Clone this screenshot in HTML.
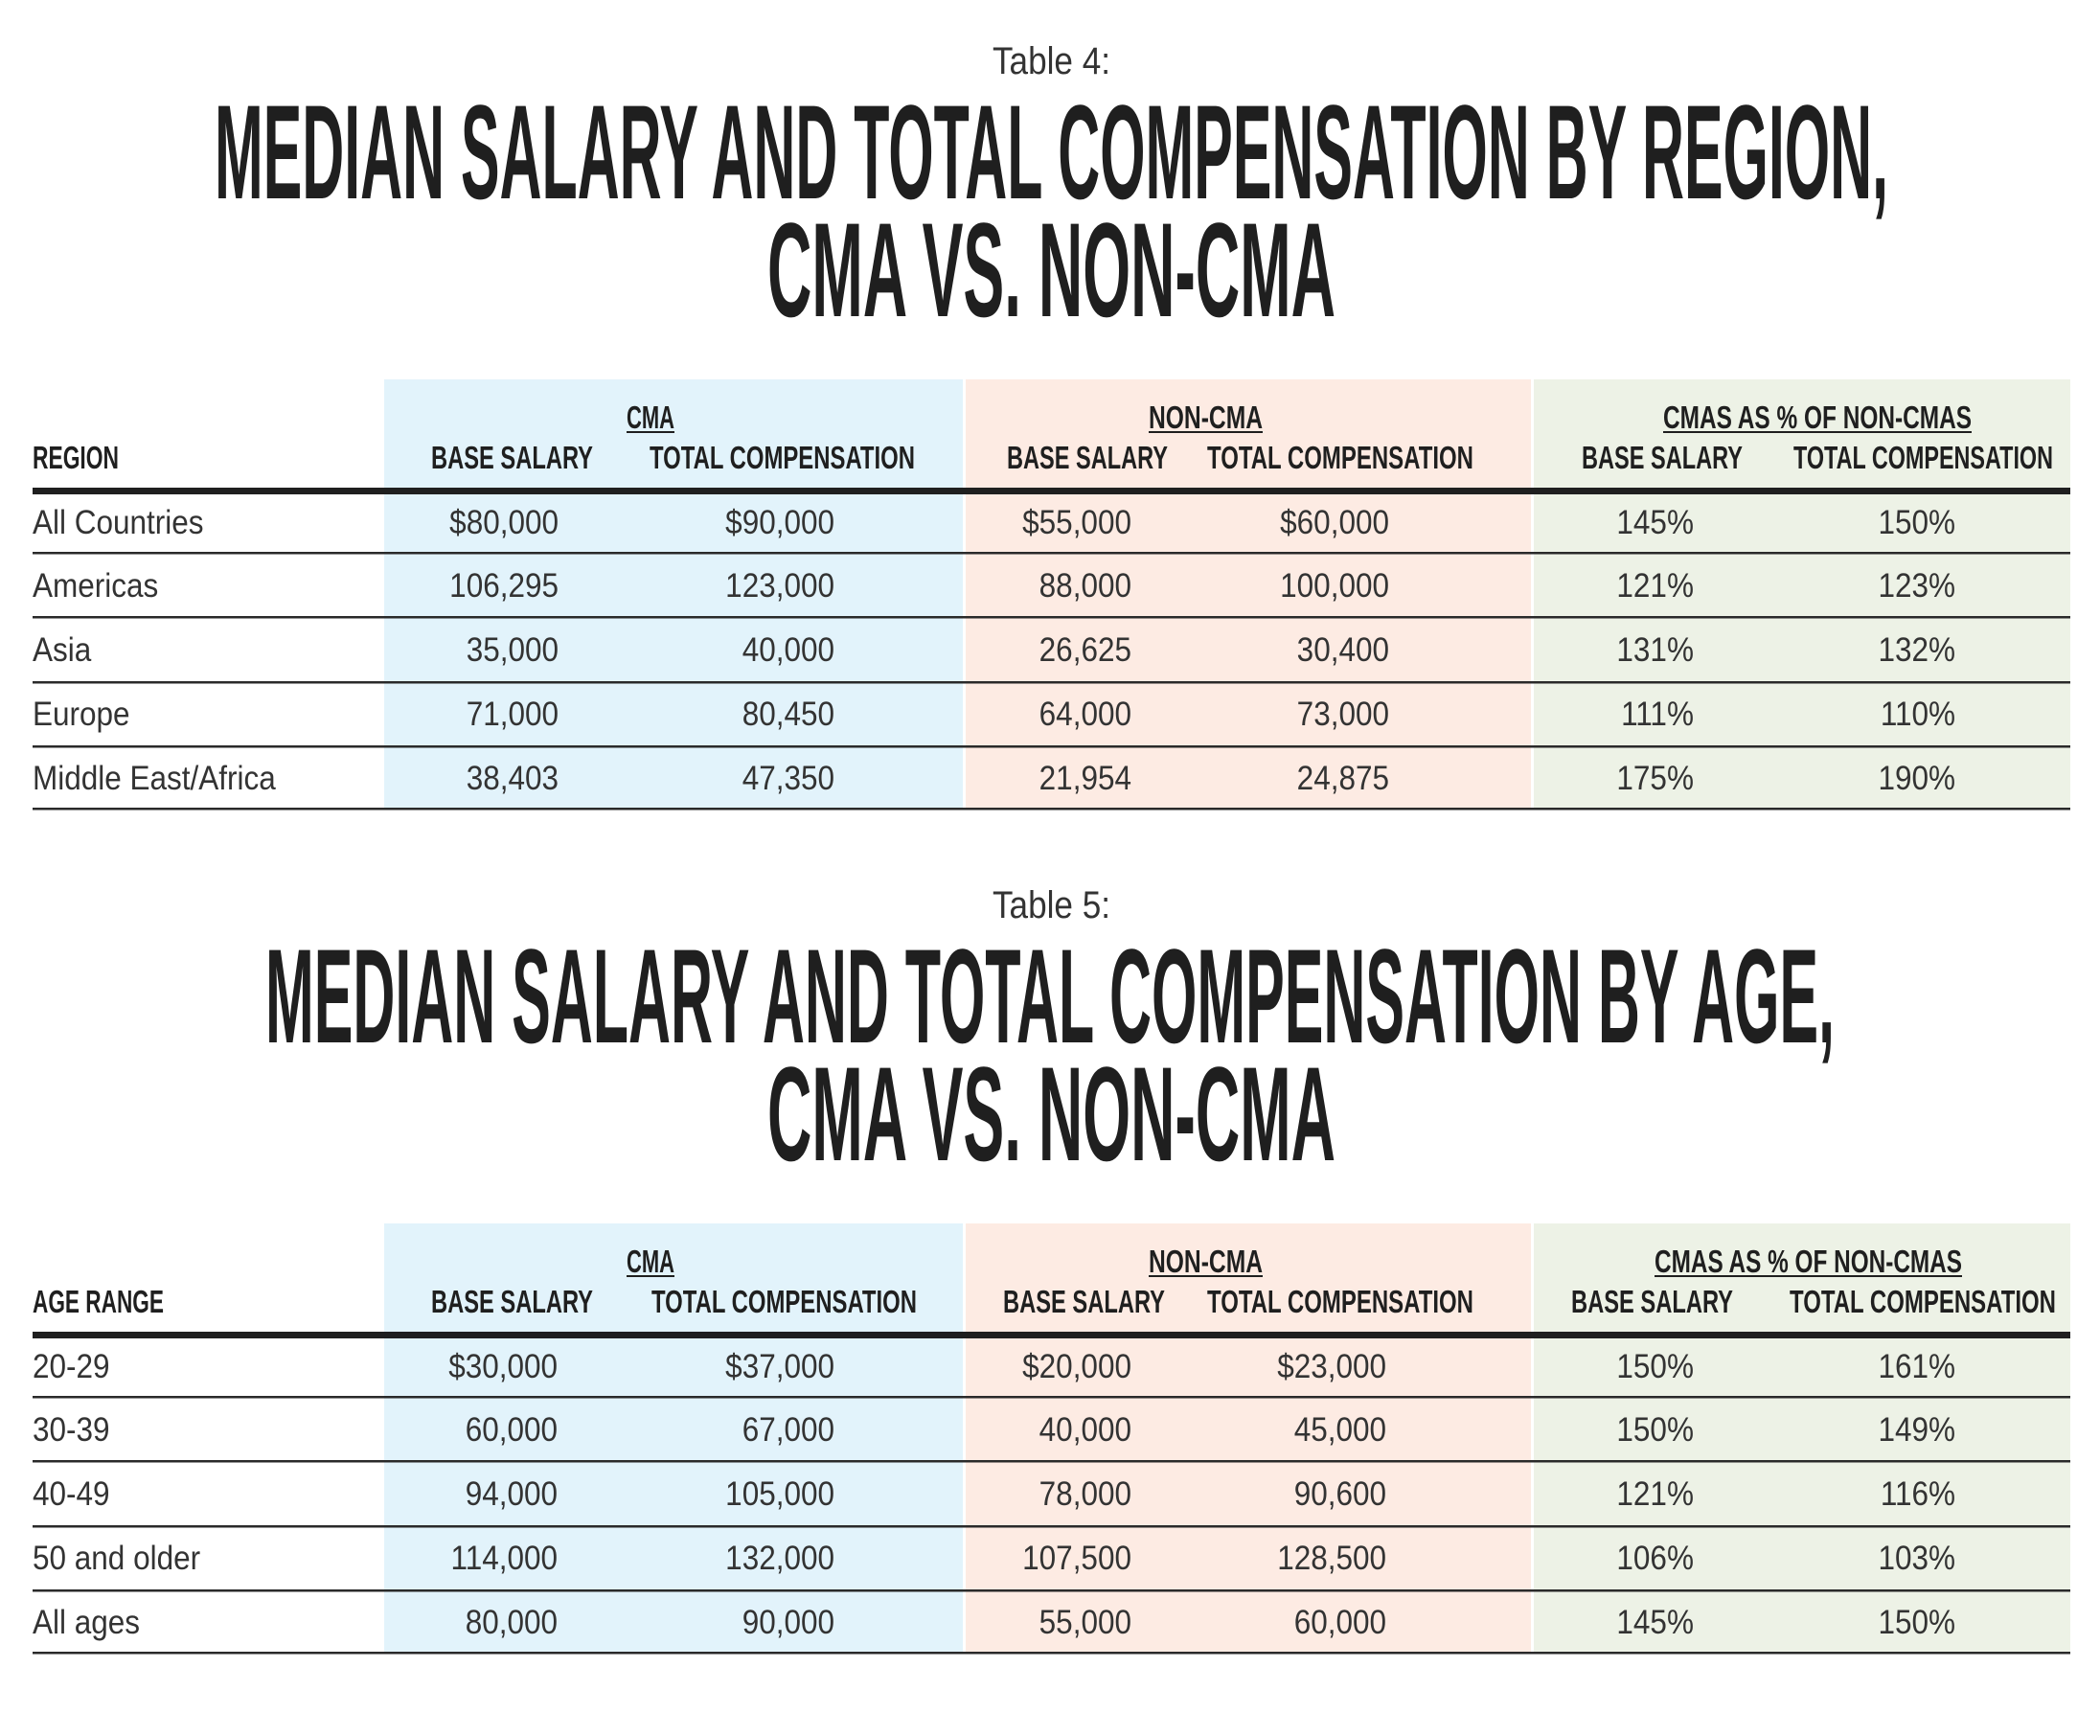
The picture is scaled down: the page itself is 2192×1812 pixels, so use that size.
<!DOCTYPE html>
<html><head><meta charset="utf-8"><style>
html,body{margin:0;padding:0;background:#fff;}
svg{display:block;}
.h{font-family:"Liberation Sans Narrow","Liberation Sans",sans-serif;font-weight:bold;fill:#1f1f1f;}
.d{font-family:"Liberation Sans Narrow","Liberation Sans",sans-serif;font-size:35px;fill:#333;}
</style></head><body>
<svg width="2192" height="1812" viewBox="0 0 2192 1812" xmlns="http://www.w3.org/2000/svg">
<rect width="2192" height="1812" fill="#fff"/>

<!-- TABLE 4 -->
<g>
<rect x="401" y="396" width="604" height="448" fill="#e2f3fb"/>
<rect x="1008" y="396" width="590" height="448" fill="#fdebe3"/>
<rect x="1601" y="396" width="560" height="448" fill="#edf2e6"/>
<rect x="34" y="509" width="2127" height="7" fill="#1f1f1f"/>
<rect x="34" y="576" width="2127" height="2.5" fill="#2a2a2a"/>
<rect x="34" y="643" width="2127" height="2.5" fill="#2a2a2a"/>
<rect x="34" y="711" width="2127" height="2.5" fill="#2a2a2a"/>
<rect x="34" y="778" width="2127" height="2.5" fill="#2a2a2a"/>
<rect x="34" y="843" width="2127" height="2.5" fill="#2a2a2a"/>

<text class="d" x="1036" y="77" style="font-size:40px" textLength="123" lengthAdjust="spacingAndGlyphs">Table 4:</text>
<text class="h" x="224" y="207" font-size="140" textLength="1747" lengthAdjust="spacingAndGlyphs">MEDIAN SALARY AND TOTAL COMPENSATION BY REGION,</text>
<text class="h" x="801" y="330" font-size="140" textLength="593" lengthAdjust="spacingAndGlyphs">CMA VS. NON-CMA</text>

<text class="h" x="654" y="447" font-size="33" textLength="50" lengthAdjust="spacingAndGlyphs">CMA</text>
<rect x="654" y="450" width="50" height="2" fill="#1f1f1f"/>
<text class="h" x="1199" y="447" font-size="33" textLength="119" lengthAdjust="spacingAndGlyphs">NON-CMA</text>
<rect x="1199" y="450" width="119" height="2" fill="#1f1f1f"/>
<text class="h" x="1736" y="447" font-size="33" textLength="322" lengthAdjust="spacingAndGlyphs">CMAS AS % OF NON-CMAS</text>
<rect x="1736" y="450" width="322" height="2" fill="#1f1f1f"/>

<text class="h" x="34" y="489" font-size="33" textLength="90" lengthAdjust="spacingAndGlyphs">REGION</text>
<text class="h" x="450" y="489" font-size="33" textLength="169" lengthAdjust="spacingAndGlyphs">BASE SALARY</text>
<text class="h" x="678" y="489" font-size="33" textLength="277" lengthAdjust="spacingAndGlyphs">TOTAL COMPENSATION</text>
<text class="h" x="1051" y="489" font-size="33" textLength="168" lengthAdjust="spacingAndGlyphs">BASE SALARY</text>
<text class="h" x="1260" y="489" font-size="33" textLength="278" lengthAdjust="spacingAndGlyphs">TOTAL COMPENSATION</text>
<text class="h" x="1651" y="489" font-size="33" textLength="168" lengthAdjust="spacingAndGlyphs">BASE SALARY</text>
<text class="h" x="1872" y="489" font-size="33" textLength="271" lengthAdjust="spacingAndGlyphs">TOTAL COMPENSATION</text>

<g class="d" transform="scale(0.9,1)">
<text x="37.8" y="557">All Countries</text>
<text x="647.8" y="557" text-anchor="end">$80,000</text>
<text x="967.8" y="557" text-anchor="end">$90,000</text>
<text x="1312.2" y="557" text-anchor="end">$55,000</text>
<text x="1611.1" y="557" text-anchor="end">$60,000</text>
<text x="1964.4" y="557" text-anchor="end">145%</text>
<text x="2267.8" y="557" text-anchor="end">150%</text>

<text x="37.8" y="623">Americas</text>
<text x="647.8" y="623" text-anchor="end">106,295</text>
<text x="967.8" y="623" text-anchor="end">123,000</text>
<text x="1312.2" y="623" text-anchor="end">88,000</text>
<text x="1611.1" y="623" text-anchor="end">100,000</text>
<text x="1964.4" y="623" text-anchor="end">121%</text>
<text x="2267.8" y="623" text-anchor="end">123%</text>

<text x="37.8" y="690">Asia</text>
<text x="647.8" y="690" text-anchor="end">35,000</text>
<text x="967.8" y="690" text-anchor="end">40,000</text>
<text x="1312.2" y="690" text-anchor="end">26,625</text>
<text x="1611.1" y="690" text-anchor="end">30,400</text>
<text x="1964.4" y="690" text-anchor="end">131%</text>
<text x="2267.8" y="690" text-anchor="end">132%</text>

<text x="37.8" y="757">Europe</text>
<text x="647.8" y="757" text-anchor="end">71,000</text>
<text x="967.8" y="757" text-anchor="end">80,450</text>
<text x="1312.2" y="757" text-anchor="end">64,000</text>
<text x="1611.1" y="757" text-anchor="end">73,000</text>
<text x="1964.4" y="757" text-anchor="end">111%</text>
<text x="2267.8" y="757" text-anchor="end">110%</text>

<text x="37.8" y="824">Middle East/Africa</text>
<text x="647.8" y="824" text-anchor="end">38,403</text>
<text x="967.8" y="824" text-anchor="end">47,350</text>
<text x="1312.2" y="824" text-anchor="end">21,954</text>
<text x="1611.1" y="824" text-anchor="end">24,875</text>
<text x="1964.4" y="824" text-anchor="end">175%</text>
<text x="2267.8" y="824" text-anchor="end">190%</text>
</g>
</g>

<!-- TABLE 5 -->
<g transform="translate(0,881)">
<rect x="401" y="396" width="604" height="448" fill="#e2f3fb"/>
<rect x="1008" y="396" width="590" height="448" fill="#fdebe3"/>
<rect x="1601" y="396" width="560" height="448" fill="#edf2e6"/>
<rect x="34" y="509" width="2127" height="7" fill="#1f1f1f"/>
<rect x="34" y="576" width="2127" height="2.5" fill="#2a2a2a"/>
<rect x="34" y="643" width="2127" height="2.5" fill="#2a2a2a"/>
<rect x="34" y="711" width="2127" height="2.5" fill="#2a2a2a"/>
<rect x="34" y="778" width="2127" height="2.5" fill="#2a2a2a"/>
<rect x="34" y="843" width="2127" height="2.5" fill="#2a2a2a"/>

<text class="d" x="1036" y="77" style="font-size:40px" textLength="123" lengthAdjust="spacingAndGlyphs">Table 5:</text>
<text class="h" x="277" y="207" font-size="140" textLength="1638" lengthAdjust="spacingAndGlyphs">MEDIAN SALARY AND TOTAL COMPENSATION BY AGE,</text>
<text class="h" x="801" y="330" font-size="140" textLength="593" lengthAdjust="spacingAndGlyphs">CMA VS. NON-CMA</text>

<text class="h" x="654" y="447" font-size="33" textLength="50" lengthAdjust="spacingAndGlyphs">CMA</text>
<rect x="654" y="450" width="50" height="2" fill="#1f1f1f"/>
<text class="h" x="1199" y="447" font-size="33" textLength="119" lengthAdjust="spacingAndGlyphs">NON-CMA</text>
<rect x="1199" y="450" width="119" height="2" fill="#1f1f1f"/>
<text class="h" x="1727" y="447" font-size="33" textLength="321" lengthAdjust="spacingAndGlyphs">CMAS AS % OF NON-CMAS</text>
<rect x="1727" y="450" width="321" height="2" fill="#1f1f1f"/>

<text class="h" x="34" y="489" font-size="33" textLength="137" lengthAdjust="spacingAndGlyphs">AGE RANGE</text>
<text class="h" x="450" y="489" font-size="33" textLength="169" lengthAdjust="spacingAndGlyphs">BASE SALARY</text>
<text class="h" x="680" y="489" font-size="33" textLength="277" lengthAdjust="spacingAndGlyphs">TOTAL COMPENSATION</text>
<text class="h" x="1047" y="489" font-size="33" textLength="169" lengthAdjust="spacingAndGlyphs">BASE SALARY</text>
<text class="h" x="1260" y="489" font-size="33" textLength="278" lengthAdjust="spacingAndGlyphs">TOTAL COMPENSATION</text>
<text class="h" x="1640" y="489" font-size="33" textLength="169" lengthAdjust="spacingAndGlyphs">BASE SALARY</text>
<text class="h" x="1868" y="489" font-size="33" textLength="278" lengthAdjust="spacingAndGlyphs">TOTAL COMPENSATION</text>

<g class="d" transform="scale(0.9,1)">
<text x="37.8" y="557">20-29</text>
<text x="646.7" y="557" text-anchor="end">$30,000</text>
<text x="967.8" y="557" text-anchor="end">$37,000</text>
<text x="1312.2" y="557" text-anchor="end">$20,000</text>
<text x="1607.8" y="557" text-anchor="end">$23,000</text>
<text x="1964.4" y="557" text-anchor="end">150%</text>
<text x="2267.8" y="557" text-anchor="end">161%</text>

<text x="37.8" y="623">30-39</text>
<text x="646.7" y="623" text-anchor="end">60,000</text>
<text x="967.8" y="623" text-anchor="end">67,000</text>
<text x="1312.2" y="623" text-anchor="end">40,000</text>
<text x="1607.8" y="623" text-anchor="end">45,000</text>
<text x="1964.4" y="623" text-anchor="end">150%</text>
<text x="2267.8" y="623" text-anchor="end">149%</text>

<text x="37.8" y="690">40-49</text>
<text x="646.7" y="690" text-anchor="end">94,000</text>
<text x="967.8" y="690" text-anchor="end">105,000</text>
<text x="1312.2" y="690" text-anchor="end">78,000</text>
<text x="1607.8" y="690" text-anchor="end">90,600</text>
<text x="1964.4" y="690" text-anchor="end">121%</text>
<text x="2267.8" y="690" text-anchor="end">116%</text>

<text x="37.8" y="757">50 and older</text>
<text x="646.7" y="757" text-anchor="end">114,000</text>
<text x="967.8" y="757" text-anchor="end">132,000</text>
<text x="1312.2" y="757" text-anchor="end">107,500</text>
<text x="1607.8" y="757" text-anchor="end">128,500</text>
<text x="1964.4" y="757" text-anchor="end">106%</text>
<text x="2267.8" y="757" text-anchor="end">103%</text>

<text x="37.8" y="824">All ages</text>
<text x="646.7" y="824" text-anchor="end">80,000</text>
<text x="967.8" y="824" text-anchor="end">90,000</text>
<text x="1312.2" y="824" text-anchor="end">55,000</text>
<text x="1607.8" y="824" text-anchor="end">60,000</text>
<text x="1964.4" y="824" text-anchor="end">145%</text>
<text x="2267.8" y="824" text-anchor="end">150%</text>
</g>
</g>
</svg>
</body></html>
